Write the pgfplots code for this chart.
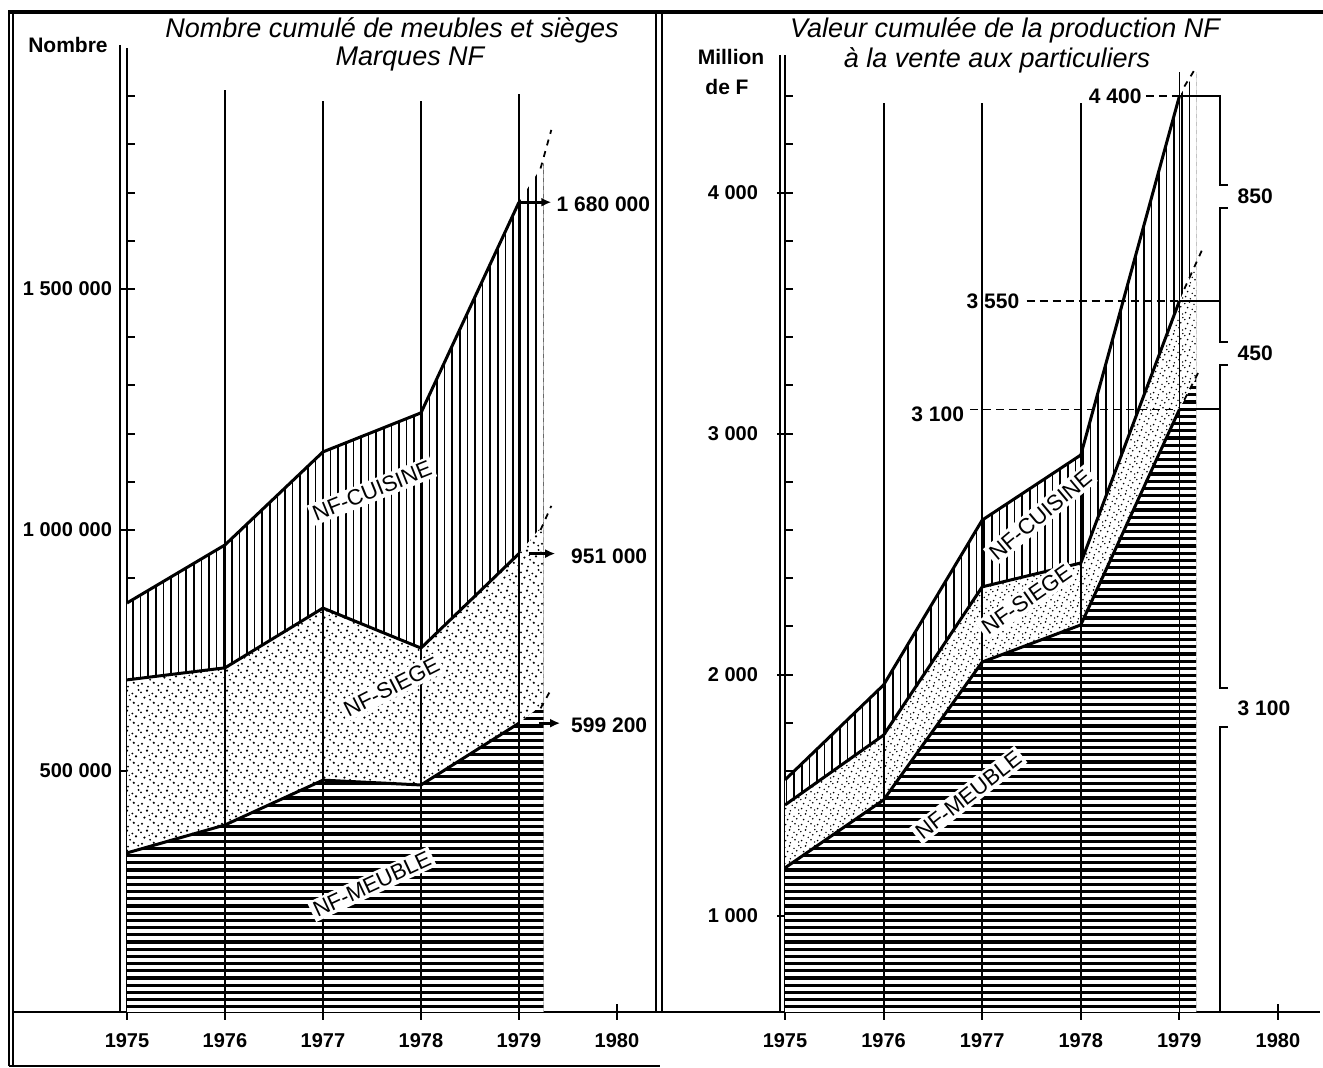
\documentclass[border=0pt]{standalone}
\usepackage{fontspec}
\setmainfont{Liberation Sans}
\usepackage{pgfplots}
\pgfplotsset{compat=1.18}
\usetikzlibrary{patterns.meta,arrows.meta}

\tikzdeclarepattern{name=HL, type=colored,
  bottom left={(-1pt,-1pt)}, top right={(5pt,4.6pt)}, tile size={(4pt,3.6pt)},
  code={\draw[line width=1.6pt,black] (-1pt,1.8pt) -- (5pt,1.8pt);}}
\tikzdeclarepattern{name=VL, type=colored,
  bottom left={(-1pt,-1pt)}, top right={(4.8pt,5pt)}, tile size={(3.8pt,4pt)},
  code={\draw[line width=0.75pt,black] (1.9pt,-1pt) -- (1.9pt,5pt);}}
\tikzdeclarepattern{name=DOTSL, type=colored,
  bottom left={(-1pt,-1pt)}, top right={(11pt,11pt)}, tile size={(10pt,10pt)},
  code={\tikzset{x=1pt,y=1pt}
    \fill[black] (1.0,2.1) circle (0.6) (4.0,0.7) circle (0.5) (6.9,2.6) circle (0.6)
      (9.1,1.2) circle (0.5) (2.2,5.2) circle (0.6) (5.1,4.1) circle (0.5)
      (8.0,5.8) circle (0.6) (0.5,7.8) circle (0.5) (3.5,8.7) circle (0.6)
      (6.2,7.2) circle (0.5) (9.3,9.0) circle (0.55) (4.6,6.3) circle (0.4);}}
\tikzdeclarepattern{name=DOTSR, type=colored,
  bottom left={(-1pt,-1pt)}, top right={(9pt,9pt)}, tile size={(8pt,8pt)},
  code={\tikzset{x=1pt,y=1pt}
    \fill[black] (0.8,1.7) circle (0.45) (3.2,0.6) circle (0.4) (5.5,2.1) circle (0.45)
      (7.3,1.0) circle (0.4) (1.8,4.2) circle (0.45) (4.1,3.3) circle (0.4)
      (6.4,4.6) circle (0.45) (0.4,6.2) circle (0.4) (2.8,7.0) circle (0.45)
      (5.0,5.8) circle (0.4) (7.4,7.2) circle (0.4);}}

\pgfplotsset{panel/.style={
  scale only axis, anchor=south west,
  axis x line=bottom, axis y line=left,
  axis line style={-, line width=1pt},
  xtick={1975,...,1980},
  xticklabels={1975,1976,1977,1978,1979,1980},
  tick align=center,
  major tick length=8pt, minor tick length=4pt,
  every minor tick/.append style={xshift=2pt},
  tick style={line width=1pt, black},
  ticklabel style={font=\bfseries\fontsize{10}{12}\selectfont},
  xticklabel style={yshift=-3pt},
  scaled y ticks=false,
  clip=true,
}}

\begin{document}
\begin{tikzpicture}
\useasboundingbox (0,0) rectangle (661.5pt,534pt);

% ---------------- left panel ----------------
\begin{axis}[panel, at={(63.5pt,28pt)}, width=266.5pt, height=482pt,
  xmin=1975, xmax=1980.439, ymin=0, ymax=2000000,
  ytick={500000,1000000,1500000},
  yticklabels={500 000,1 000 000,1 500 000},
  minor ytick={100000,200000,300000,400000,600000,700000,800000,900000,1100000,1200000,1300000,1400000,1600000,1700000,1800000,1900000},
  yticklabel style={xshift=0pt},
]
\addplot[draw=none, fill=white, postaction={pattern=VL}] coordinates
  {(1975,848500)(1976,969000)(1977,1162000)(1978,1243000)(1979,1680000)(1979.25,1760000)} \closedcycle;
\addplot[draw=none, fill=white, postaction={pattern=DOTSL}] coordinates
  {(1975,689000)(1976,714000)(1977,838000)(1978,755000)(1979,951000)(1979.25,1012000)} \closedcycle;
\addplot[draw=none, fill=white, postaction={pattern=HL}] coordinates
  {(1975,330000)(1976,388000)(1977,481000)(1978,471000)(1979,599200)(1979.25,639000)} \closedcycle;
\addplot[line width=1.5pt] coordinates {(1975,848500)(1976,969000)(1977,1162000)(1978,1243000)(1979,1680000)};
\addplot[line width=1.5pt] coordinates {(1975,689000)(1976,714000)(1977,838000)(1978,755000)(1979,951000)};
\addplot[line width=1.5pt] coordinates {(1975,330000)(1976,388000)(1977,481000)(1978,471000)(1979,599200)};
\draw[line width=0.9pt, dashed] (axis cs:1979.22,1750000) -- (axis cs:1979.33,1830000);
\draw[line width=0.9pt, dashed] (axis cs:1979.22,1000000) -- (axis cs:1979.33,1050000);
\draw[line width=0.9pt, dashed] (axis cs:1979.22,630000) -- (axis cs:1979.33,670000);
% year lines
\draw[line width=0.9pt] (axis cs:1976,0) -- (axis cs:1976,1913000);
\draw[line width=0.9pt] (axis cs:1977,0) -- (axis cs:1977,1890000);
\draw[line width=0.9pt] (axis cs:1978,0) -- (axis cs:1978,1890000);
\draw[line width=0.9pt] (axis cs:1979,0) -- (axis cs:1979,1905000);
% area labels
\node[fill=white, inner sep=1.5pt, rotate=22, font=\fontsize{11}{13}\selectfont] at (axis cs:1977.5,1081000) {NF-CUISINE};
\node[fill=white, inner sep=1.5pt, rotate=27, font=\fontsize{11}{13}\selectfont] at (axis cs:1977.7,674000) {NF-SIEGE};
\node[fill=white, inner sep=1.5pt, rotate=25, font=\fontsize{11}{13}\selectfont] at (axis cs:1977.5,265000) {NF-MEUBLE};
% value arrows
\draw[line width=1.4pt, -{Latex[length=5pt,width=4.5pt]}] (axis cs:1979,1680000) -- (axis cs:1979.33,1680000);
\draw[line width=1.4pt, -{Latex[length=5pt,width=4.5pt]}] (axis cs:1979.1,951000) -- (axis cs:1979.37,951000);
\draw[line width=1.4pt, -{Latex[length=5pt,width=4.5pt]}] (axis cs:1979.2,599200) -- (axis cs:1979.42,599200);
\node[anchor=east, font=\bfseries\fontsize{10.5}{12}\selectfont] at (axis cs:1980.41,1676000) {1 680 000};
\node[anchor=east, font=\bfseries\fontsize{10.5}{12}\selectfont] at (axis cs:1980.38,945000) {951 000};
\node[anchor=east, font=\bfseries\fontsize{10.5}{12}\selectfont] at (axis cs:1980.38,595000) {599 200};
\end{axis}

% ---------------- right panel ----------------
\begin{axis}[panel, at={(392.5pt,28pt)}, width=267.5pt, height=478.4pt,
  xmin=1975, xmax=1980.426, ymin=600, ymax=4570,
  ytick={1000,2000,3000,4000},
  yticklabels={1 000,2 000,3 000,4 000},
  minor ytick={800,1200,1400,1600,1800,2200,2400,2600,2800,3200,3400,3600,3800,4200,4400},
  yticklabel style={xshift=-6pt},
]
\addplot[draw=none, fill=white, postaction={pattern=VL}] coordinates
  {(1975,1563)(1976,1957)(1977,2641)(1978,2911)(1979,4400)(1979.17,4500)} \closedcycle;
\addplot[draw=none, fill=white, postaction={pattern=DOTSR}] coordinates
  {(1975,1459)(1976,1749)(1977,2364)(1978,2463)(1979,3550)(1979.17,3700)} \closedcycle;
\addplot[draw=none, fill=white, postaction={pattern=HL}] coordinates
  {(1975,1198)(1976,1480)(1977,2052)(1978,2206)(1979,3100)(1979.17,3230)} \closedcycle;
\addplot[line width=1.5pt] coordinates {(1975,1563)(1976,1957)(1977,2641)(1978,2911)(1979,4400)};
\addplot[line width=1.5pt] coordinates {(1975,1459)(1976,1749)(1977,2364)(1978,2463)(1979,3550)};
\addplot[line width=1.5pt] coordinates {(1975,1198)(1976,1480)(1977,2052)(1978,2206)(1979,3100)};
\draw[line width=0.9pt, dashed] (axis cs:1979.05,4440) -- (axis cs:1979.17,4520);
\draw[line width=0.9pt, dashed] (axis cs:1979.05,3600) -- (axis cs:1979.25,3780);
\draw[line width=0.9pt, dashed] (axis cs:1979.05,3140) -- (axis cs:1979.2,3260);
% year lines
\draw[line width=0.9pt] (axis cs:1976,600) -- (axis cs:1976,4372);
\draw[line width=0.9pt] (axis cs:1977,600) -- (axis cs:1977,4372);
\draw[line width=0.9pt] (axis cs:1978,600) -- (axis cs:1978,4372);
\draw[line width=0.9pt] (axis cs:1979,600) -- (axis cs:1979,4500);
% area labels
\node[fill=white, inner sep=1.5pt, rotate=40, font=\fontsize{11}{13}\selectfont] at (axis cs:1977.59,2662) {NF-CUISINE};
\node[fill=white, inner sep=1.5pt, rotate=35, font=\fontsize{11}{13}\selectfont] at (axis cs:1977.45,2310) {NF-SIEGE};
\node[fill=white, inner sep=1.5pt, rotate=38, font=\fontsize{11}{13}\selectfont] at (axis cs:1976.86,1500) {NF-MEUBLE};
% level lines and labels
\draw[line width=0.9pt, dash pattern=on 4pt off 2.5pt] (axis cs:1978.66,4400) -- (axis cs:1979,4400);
\draw[line width=0.9pt, dash pattern=on 4pt off 2.5pt] (axis cs:1977.45,3550) -- (axis cs:1979,3550);
\draw[line width=0.9pt, dash pattern=on 4pt off 2.5pt] (axis cs:1976.88,3100) -- (axis cs:1979,3100);
\node[anchor=east, inner sep=1pt, font=\bfseries\fontsize{10.5}{12}\selectfont] at (axis cs:1978.64,4400) {4 400};
\node[anchor=east, inner sep=1pt, font=\bfseries\fontsize{10.5}{12}\selectfont] at (axis cs:1977.40,3550) {3 550};
\node[anchor=east, inner sep=1pt, font=\bfseries\fontsize{10.5}{12}\selectfont] at (axis cs:1976.84,3080) {3 100};
\draw[line width=1pt] (axis cs:1979,4400) -- (axis cs:1979.41,4400) -- (axis cs:1979.41,4030) -- (axis cs:1979.49,4030);
\draw[line width=1pt] (axis cs:1979.49,3935) -- (axis cs:1979.41,3935) -- (axis cs:1979.41,3550) -- (axis cs:1979,3550);
\draw[line width=1pt] (axis cs:1979.41,3550) -- (axis cs:1979.41,3380) -- (axis cs:1979.49,3380);
\draw[line width=1pt] (axis cs:1979.49,3285) -- (axis cs:1979.41,3285) -- (axis cs:1979.41,3100) -- (axis cs:1979,3100);
\draw[line width=1pt] (axis cs:1979.41,3100) -- (axis cs:1979.41,1944) -- (axis cs:1979.49,1944);
\draw[line width=1pt] (axis cs:1979.49,1783) -- (axis cs:1979.41,1783) -- (axis cs:1979.41,600);
\node[anchor=west, font=\bfseries\fontsize{10.5}{12}\selectfont] at (axis cs:1979.52,3985) {850};
\node[anchor=west, font=\bfseries\fontsize{10.5}{12}\selectfont] at (axis cs:1979.52,3335) {450};
\node[anchor=west, font=\bfseries\fontsize{10.5}{12}\selectfont] at (axis cs:1979.52,1862) {3 100};
\end{axis}

% ---------------- frame, titles ----------------
\begin{scope}[x=0.5pt, y=-0.5pt, shift={(0pt,534pt)}]
\draw[line width=2pt] (8,12) -- (1323,12);
\draw[line width=0.8pt] (9,12) -- (9,1066);
\draw[line width=0.8pt] (13,12) -- (13,1066);
\draw[line width=1pt] (9,1066) -- (660,1066);
\draw[line width=0.8pt] (656,12) -- (656,1012);
\draw[line width=0.8pt] (662,12) -- (662,1012);
\draw[line width=1pt] (13,1012) -- (127,1012);
\draw[line width=1pt] (660,1012) -- (785,1012);
\draw[line width=0.8pt] (120,45) -- (120,1012);
\draw[line width=0.8pt] (780,55) -- (780,1012);
\node[font=\itshape\fontsize{13.5}{15}\selectfont] at (392,30) {Nombre cumulé de meubles et sièges};
\node[font=\itshape\fontsize{13.5}{15}\selectfont] at (410,59) {Marques NF};
\node[font=\itshape\fontsize{13.5}{15}\selectfont] at (1005,30) {Valeur cumulée de la production NF};
\node[font=\itshape\fontsize{13.5}{15}\selectfont] at (997,60) {à la vente aux particuliers};
\node[font=\bfseries\fontsize{10.5}{12}\selectfont] at (68,45) {Nombre};
\node[font=\bfseries\fontsize{10.5}{12}\selectfont] at (731,57) {Million};
\node[font=\bfseries\fontsize{10.5}{12}\selectfont] at (727,87) {de F};
\end{scope}
\end{tikzpicture}
\end{document}
